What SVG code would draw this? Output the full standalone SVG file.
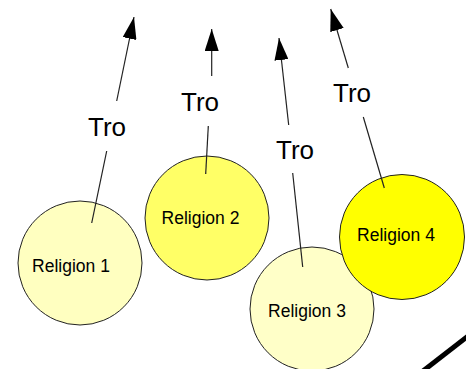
<svg xmlns="http://www.w3.org/2000/svg" width="466" height="369" viewBox="0 0 466 369">
<defs>
<style>
.node circle{stroke:#222;stroke-width:1}
.node text{font-family:"Liberation Sans",Arial,sans-serif;font-size:17.5px;fill:#000;text-anchor:middle}
.lbl{font-family:"Liberation Sans",Arial,sans-serif;font-size:26px;fill:#000;text-anchor:middle}
.conn line{stroke:#222;stroke-width:1.2}
</style>
<marker id="ah" viewBox="0 0 22 14" refX="22" refY="7" markerWidth="22" markerHeight="14" markerUnits="userSpaceOnUse" orient="auto">
<path d="M0,0 L22,7 L0,14 Z" fill="#000"/>
</marker>
</defs>
<rect width="466" height="369" fill="#fff"/>
<g id="n1" class="node"><circle cx="80" cy="263" r="62" fill="#FFFFC0"/><text x="71" y="272">Religion 1</text></g>
<g id="n2" class="node"><circle cx="207" cy="218" r="62" fill="#FFFF66"/><text x="200.5" y="224">Religion 2</text></g>
<g id="n3" class="node"><circle cx="312" cy="309" r="62" fill="#FFFFC8"/><text x="307" y="317">Religion 3</text></g>
<g id="n4" class="node"><circle cx="402" cy="237" r="62.5" fill="#FFFF00"/><text x="396" y="241">Religion 4</text></g>
<g id="connectors" class="conn">
<line x1="91.7" y1="223" x2="106.7" y2="151"/>
<line x1="116.7" y1="101" x2="134" y2="17" marker-end="url(#ah)"/>
<line x1="205.7" y1="174" x2="208.3" y2="126"/>
<line x1="211.7" y1="76" x2="211.7" y2="29" marker-end="url(#ah)"/>
<line x1="302.7" y1="267" x2="292.7" y2="173"/>
<line x1="288.7" y1="125" x2="279" y2="38" marker-end="url(#ah)"/>
<line x1="384.3" y1="188" x2="363.3" y2="117"/>
<line x1="348.3" y1="68" x2="330.7" y2="9" marker-end="url(#ah)"/>
</g>
<text class="lbl" x="107" y="136">Tro</text>
<text class="lbl" x="200" y="111">Tro</text>
<text class="lbl" x="295" y="159">Tro</text>
<text class="lbl" x="352" y="102">Tro</text>
<line x1="423" y1="371" x2="468" y2="336" stroke="#000" stroke-width="5"/>
</svg>
